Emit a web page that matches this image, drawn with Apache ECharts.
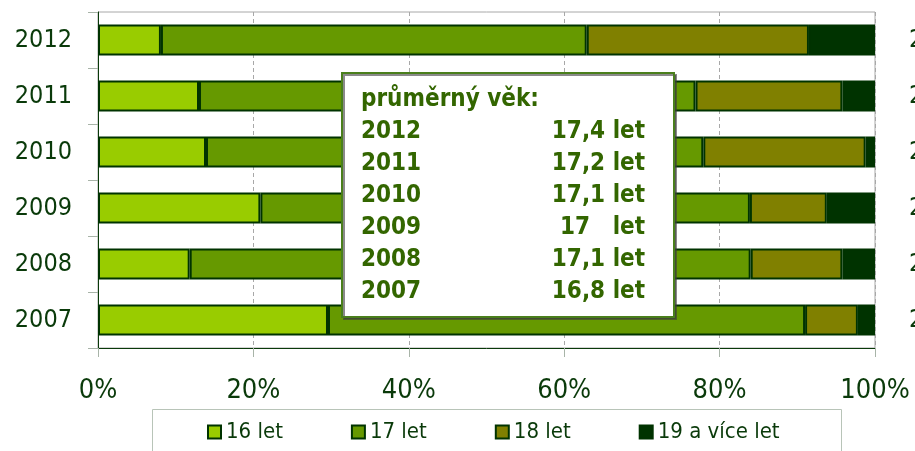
<!DOCTYPE html>
<html>
<head>
<meta charset="utf-8">
<script src="https://cdn.jsdelivr.net/npm/echarts@6/dist/echarts.min.js"></script>
<style>html,body{margin:0;padding:0;background:#fff}#c{width:915px;height:451px}</style>
</head>
<body>
<div id="c"></div>
<script>
// Data (bottom to top)
var years = ['2007', '2008', '2009', '2010', '2011', '2012'];
var seriesNames = ['16 let', '17 let', '18 let', '19 a více let'];
var s16 = [29.6, 11.8, 20.9, 13.9, 13.0, 8.1];
var s17 = [61.4, 72.2, 63.0, 64.0, 63.9, 54.8];
var s18 = [6.8, 11.8, 9.9, 20.9, 18.9, 28.6];
var s19 = [2.2, 4.2, 6.2, 1.2, 4.2, 8.5];
var xTicks = ['0%', '20%', '40%', '60%', '80%', '100%'];
var boxTitle = 'průměrný věk:';
var avgYears = ['2012', '2011', '2010', '2009', '2008', '2007'];
var avgLabels = ['17,4 let', '17,2 let', '17,1 let', '17   let', '17,1 let', '16,8 let'];

var colors = ['#99CC00', '#669900', '#808000', '#003300'];
var FONT = '"DejaVu Sans Condensed", "DejaVu Sans", sans-serif';
var chart = echarts.init(document.getElementById('c'), null, {renderer: 'canvas'});

var seriesData = [s16, s17, s18, s19];
var series = seriesData.map(function (d, i) {
  return {
    name: seriesNames[i], type: 'bar', stack: 'total', data: d,
    barWidth: 31,
    itemStyle: {color: colors[i], borderColor: '#003300', borderWidth: 2},
    emphasis: {disabled: true}
  };
});

var graphics = [];
graphics.push({
  type: 'rect', z: 100, left: 152, top: 409,
  shape: {x: 0, y: 0, width: 689, height: 60},
  style: {fill: '#fff', stroke: '#b8c4b8', lineWidth: 1}, silent: true
});
graphics.push({
  type: 'rect', z: 100, left: 341, top: 72,
  shape: {x: 0, y: 0, width: 332, height: 244},
  style: {fill: '#fff', stroke: '#4a7f1c', lineWidth: 2, shadowColor: 'rgba(60,60,60,0.6)', shadowOffsetX: 2, shadowOffsetY: 2, shadowBlur: 0}, silent: true
});
graphics.push({
  type: 'text', z: 101, x: 361, y: 99.5,
  style: {text: boxTitle, font: 'bold 24px ' + FONT, fill: '#336600', verticalAlign: 'middle', align: 'left'}
});
avgYears.forEach(function (y, i) {
  graphics.push({
    type: 'text', z: 101, x: 361, y: 131.5 + 32 * i,
    style: {text: y, font: 'bold 24px ' + FONT, fill: '#336600', verticalAlign: 'middle', align: 'left'}
  });
  graphics.push({
    type: 'text', z: 101, x: 645, y: 131.5 + 32 * i,
    style: {text: avgLabels[i], font: 'bold 24px ' + FONT, fill: '#336600', verticalAlign: 'middle', align: 'right'}
  });
});

chart.setOption({
  animation: false,
  backgroundColor: '#fff',
  grid: {left: 98, right: 40, top: 12, bottom: 103, containLabel: false, outerBoundsMode: 'none', show: true, borderColor: '#a8a8a8', borderWidth: 1, backgroundColor: 'transparent'},
  legend: {
    z: 102, left: 207, top: 421, padding: 0, itemWidth: 13, itemHeight: 13, itemGap: 68, icon: 'rect',
    data: seriesNames,
    textStyle: {fontFamily: FONT, fontSize: 22, color: '#0a3a0a'},
    selectedMode: false
  },
  xAxis: {
    type: 'value', min: 0, max: 100, interval: 20,
    axisLine: {show: true, lineStyle: {color: '#0a3a0a', width: 1}},
    axisTick: {show: true, length: 9, lineStyle: {color: '#a8b4a8'}},
    splitLine: {show: true, lineStyle: {color: '#a8a8a8', type: [4, 3]}},
    axisLabel: {
      margin: 29, fontFamily: FONT, fontSize: 27, color: '#0a3a0a',
      formatter: function (v) { return xTicks[Math.round(v / 20)]; }
    }
  },
  yAxis: [{
    type: 'category', data: years,
    axisLine: {show: true, lineStyle: {color: '#0a3a0a', width: 1}},
    axisTick: {show: true, length: 10, lineStyle: {color: '#a8b4a8'}},
    axisLabel: {margin: 26, fontFamily: FONT, fontSize: 25, color: '#0a3a0a'}
  }, {
    type: 'category', data: years, position: 'right',
    axisLine: {show: false}, axisTick: {show: false},
    axisLabel: {margin: 34, fontFamily: FONT, fontSize: 25, color: '#0a3a0a', padding: [0, 0, 13, 0]}
  }],
  series: series,
  graphic: graphics
});
</script>
</body>
</html>
